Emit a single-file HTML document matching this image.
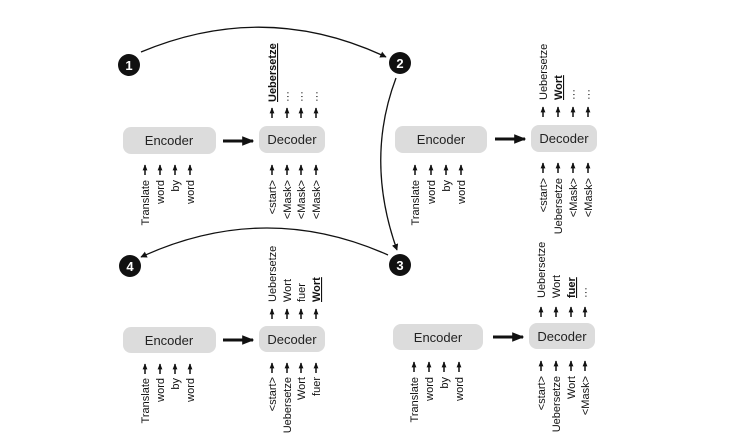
<!DOCTYPE html>
<html><head><meta charset="utf-8"><style>
html,body{margin:0;padding:0;background:#fff;}
svg{display:block;font-family:"Liberation Sans",Arial,sans-serif;}
.l{font-size:11px;fill:#111;}
.b{font-size:11px;fill:#111;font-weight:bold;text-decoration:underline;}
.box{fill:#dcdcdc;}
.bt{font-size:13px;fill:#222;text-anchor:middle;}
.c{fill:#111;}
.ct{fill:#fff;font-size:13px;font-weight:bold;text-anchor:middle;}
</style></head><body>
<svg width="730" height="445" viewBox="0 0 730 445">
<defs>
<marker id="a" viewBox="0 0 10 10" refX="9" refY="5" markerWidth="5" markerHeight="5" orient="auto"><path d="M0,0 L10,5 L0,10 z" fill="#111"/></marker>
<marker id="s" viewBox="0 0 10 10" refX="9" refY="5" markerWidth="4" markerHeight="4" orient="auto"><path d="M0,1 L10,5 L0,9 z" fill="#111"/></marker>
<g id="up"><line x1="0" y1="12" x2="0" y2="2" stroke="#111" stroke-width="1.5" marker-end="url(#s)"/></g>
<g id="big"><line x1="0" y1="0" x2="30" y2="0" stroke="#111" stroke-width="3" marker-end="url(#s)"/></g>
</defs>

<!-- curved connectors -->
<path d="M141,52 Q265,0 386,57" fill="none" stroke="#111" stroke-width="1.3" marker-end="url(#a)"/>
<path d="M396,78 Q365,160 397,250" fill="none" stroke="#111" stroke-width="1.3" marker-end="url(#a)"/>
<path d="M388,255 Q265,200 141,257" fill="none" stroke="#111" stroke-width="1.3" marker-end="url(#a)"/>

<!-- circles -->
<circle class="c" cx="129" cy="65" r="11"/><text class="ct" x="129" y="70">1</text>
<circle class="c" cx="400" cy="63" r="11"/><text class="ct" x="400" y="68">2</text>
<circle class="c" cx="130" cy="266" r="11"/><text class="ct" x="130" y="271">4</text>
<circle class="c" cx="400" cy="265" r="11"/><text class="ct" x="400" y="270">3</text>

<!-- Panel 1 -->
<rect class="box" x="123" y="127" width="93" height="27" rx="8"/><text class="bt" x="169" y="145">Encoder</text>
<use href="#big" transform="translate(223,141)"/>
<rect class="box" x="259" y="126" width="66" height="27" rx="8"/><text class="bt" x="292" y="144">Decoder</text>
<use href="#up" transform="translate(145,163)"/><use href="#up" transform="translate(160,163)"/><use href="#up" transform="translate(175,163)"/><use href="#up" transform="translate(190,163)"/>
<g text-anchor="end">
<text class="l" transform="translate(149,180) rotate(-90)">Translate</text>
<text class="l" transform="translate(164,180) rotate(-90)">word</text>
<text class="l" transform="translate(179,180) rotate(-90)">by</text>
<text class="l" transform="translate(194,180) rotate(-90)">word</text>
<text class="l" transform="translate(276,180) rotate(-90)">&lt;start&gt;</text>
<text class="l" transform="translate(291,180) rotate(-90)">&lt;Mask&gt;</text>
<text class="l" transform="translate(305,180) rotate(-90)">&lt;Mask&gt;</text>
<text class="l" transform="translate(320,180) rotate(-90)">&lt;Mask&gt;</text>
</g>
<use href="#up" transform="translate(272,163)"/><use href="#up" transform="translate(287,163)"/><use href="#up" transform="translate(301,163)"/><use href="#up" transform="translate(316,163)"/>
<use href="#up" transform="translate(272,106)"/><use href="#up" transform="translate(287,106)"/><use href="#up" transform="translate(301,106)"/><use href="#up" transform="translate(316,106)"/>
<text class="b" transform="translate(276,102) rotate(-90)">Uebersetze</text>
<text class="l" transform="translate(291,102) rotate(-90)">···</text>
<text class="l" transform="translate(305,102) rotate(-90)">···</text>
<text class="l" transform="translate(320,102) rotate(-90)">···</text>

<!-- Panel 2 -->
<rect class="box" x="395" y="126" width="92" height="27" rx="8"/><text class="bt" x="441" y="144">Encoder</text>
<use href="#big" transform="translate(495,139)"/>
<rect class="box" x="531" y="125" width="66" height="27" rx="8"/><text class="bt" x="564" y="143">Decoder</text>
<use href="#up" transform="translate(415,163)"/><use href="#up" transform="translate(431,163)"/><use href="#up" transform="translate(446,163)"/><use href="#up" transform="translate(461,163)"/>
<use href="#up" transform="translate(543,161)"/><use href="#up" transform="translate(558,161)"/><use href="#up" transform="translate(573,161)"/><use href="#up" transform="translate(588,161)"/>
<use href="#up" transform="translate(543,105)"/><use href="#up" transform="translate(558,105)"/><use href="#up" transform="translate(573,105)"/><use href="#up" transform="translate(588,105)"/>
<g text-anchor="end">
<text class="l" transform="translate(419,180) rotate(-90)">Translate</text>
<text class="l" transform="translate(435,180) rotate(-90)">word</text>
<text class="l" transform="translate(450,180) rotate(-90)">by</text>
<text class="l" transform="translate(465,180) rotate(-90)">word</text>
<text class="l" transform="translate(547,178) rotate(-90)">&lt;start&gt;</text>
<text class="l" transform="translate(562,178) rotate(-90)">Uebersetze</text>
<text class="l" transform="translate(577,178) rotate(-90)">&lt;Mask&gt;</text>
<text class="l" transform="translate(592,178) rotate(-90)">&lt;Mask&gt;</text>
</g>
<text class="l" transform="translate(547,100) rotate(-90)">Uebersetze</text>
<text class="b" transform="translate(562,100) rotate(-90)">Wort</text>
<text class="l" transform="translate(577,100) rotate(-90)">···</text>
<text class="l" transform="translate(592,100) rotate(-90)">···</text>

<!-- Panel 4 -->
<rect class="box" x="123" y="327" width="93" height="26" rx="8"/><text class="bt" x="169" y="345">Encoder</text>
<use href="#big" transform="translate(223,340)"/>
<rect class="box" x="259" y="326" width="66" height="26" rx="8"/><text class="bt" x="292" y="344">Decoder</text>
<use href="#up" transform="translate(145,362)"/><use href="#up" transform="translate(160,362)"/><use href="#up" transform="translate(175,362)"/><use href="#up" transform="translate(190,362)"/>
<use href="#up" transform="translate(272,361)"/><use href="#up" transform="translate(287,361)"/><use href="#up" transform="translate(301,361)"/><use href="#up" transform="translate(316,361)"/>
<use href="#up" transform="translate(272,307)"/><use href="#up" transform="translate(287,307)"/><use href="#up" transform="translate(301,307)"/><use href="#up" transform="translate(316,307)"/>
<g text-anchor="end">
<text class="l" transform="translate(149,378) rotate(-90)">Translate</text>
<text class="l" transform="translate(164,378) rotate(-90)">word</text>
<text class="l" transform="translate(179,378) rotate(-90)">by</text>
<text class="l" transform="translate(194,378) rotate(-90)">word</text>
<text class="l" transform="translate(276,377) rotate(-90)">&lt;start&gt;</text>
<text class="l" transform="translate(291,377) rotate(-90)">Uebersetze</text>
<text class="l" transform="translate(305,377) rotate(-90)">Wort</text>
<text class="l" transform="translate(320,377) rotate(-90)">fuer</text>
</g>
<text class="l" transform="translate(276,302) rotate(-90)">Uebersetze</text>
<text class="l" transform="translate(291,302) rotate(-90)">Wort</text>
<text class="l" transform="translate(305,302) rotate(-90)">fuer</text>
<text class="b" transform="translate(320,302) rotate(-90)">Wort</text>

<!-- Panel 3 -->
<rect class="box" x="393" y="324" width="90" height="26" rx="8"/><text class="bt" x="438" y="342">Encoder</text>
<use href="#big" transform="translate(493,337)"/>
<rect class="box" x="529" y="323" width="66" height="26" rx="8"/><text class="bt" x="562" y="341">Decoder</text>
<use href="#up" transform="translate(414,360)"/><use href="#up" transform="translate(429,360)"/><use href="#up" transform="translate(444,360)"/><use href="#up" transform="translate(459,360)"/>
<use href="#up" transform="translate(541,359)"/><use href="#up" transform="translate(556,359)"/><use href="#up" transform="translate(571,359)"/><use href="#up" transform="translate(585,359)"/>
<use href="#up" transform="translate(541,305)"/><use href="#up" transform="translate(556,305)"/><use href="#up" transform="translate(571,305)"/><use href="#up" transform="translate(585,305)"/>
<g text-anchor="end">
<text class="l" transform="translate(418,377) rotate(-90)">Translate</text>
<text class="l" transform="translate(433,377) rotate(-90)">word</text>
<text class="l" transform="translate(448,377) rotate(-90)">by</text>
<text class="l" transform="translate(463,377) rotate(-90)">word</text>
<text class="l" transform="translate(545,376) rotate(-90)">&lt;start&gt;</text>
<text class="l" transform="translate(560,376) rotate(-90)">Uebersetze</text>
<text class="l" transform="translate(575,376) rotate(-90)">Wort</text>
<text class="l" transform="translate(589,376) rotate(-90)">&lt;Mask&gt;</text>
</g>
<text class="l" transform="translate(545,298) rotate(-90)">Uebersetze</text>
<text class="l" transform="translate(560,298) rotate(-90)">Wort</text>
<text class="b" transform="translate(575,298) rotate(-90)">fuer</text>
<text class="l" transform="translate(589,298) rotate(-90)">···</text>
</svg>
</body></html>
